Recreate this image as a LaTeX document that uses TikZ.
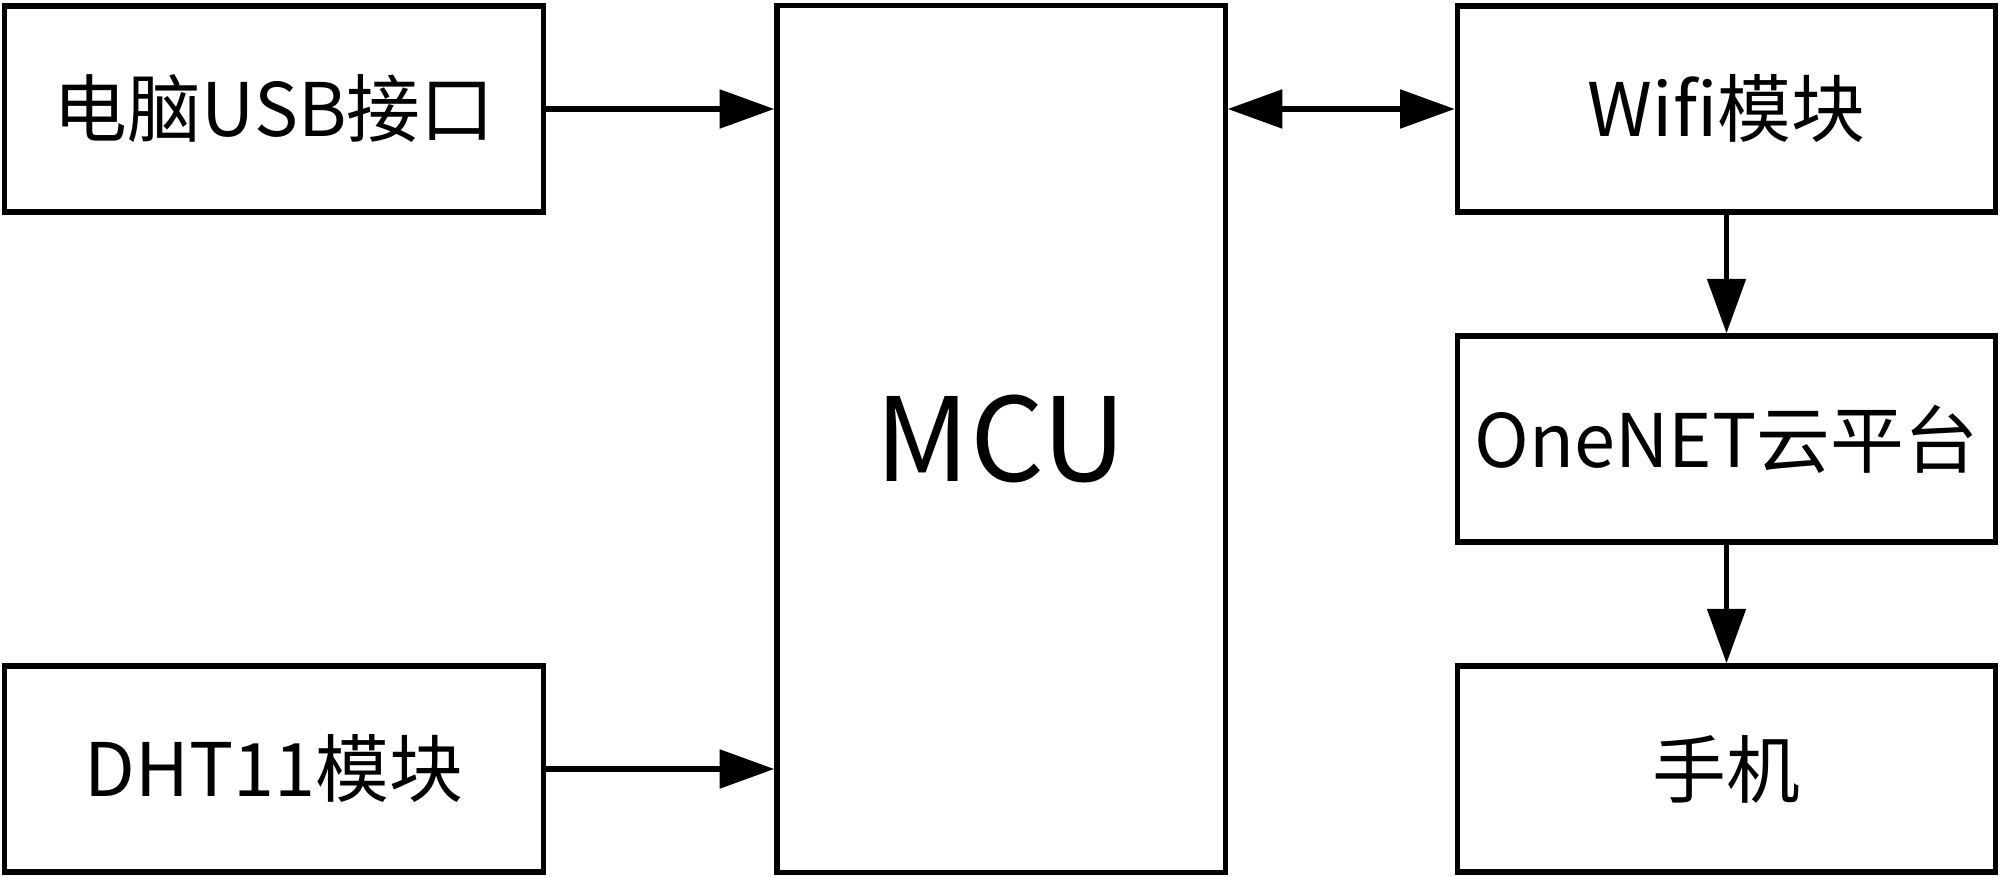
\documentclass[tikz,border=0pt]{standalone}
\usepackage{fontspec}
\setmainfont{Noto Sans CJK SC}
\usetikzlibrary{arrows.meta}
\begin{document}
\begin{tikzpicture}[x=0.01cm,y=-0.01cm,
  blk/.style={draw=black,line width=1.5pt,rectangle,inner sep=0pt,
    font=\fontsize{21pt}{25pt}\selectfont},
  side/.style={blk,minimum width=5.38cm,minimum height=2.06cm},
  conn/.style={line width=1.5pt,-{Triangle[length=15.5pt,width=10.8pt]}},
  biconn/.style={line width=1.5pt,{Triangle[length=15.5pt,width=10.8pt]}-{Triangle[length=15.5pt,width=10.8pt]}}]
\useasboundingbox (0,0) rectangle (2000,877);
\node[side] (usb) at (274,109) {电脑USB接口};
\node[side] (dht) at (274,769) {DHT11模块};
\node[blk,minimum width=4.48cm,minimum height=8.66cm,
  font=\fontsize{33pt}{37pt}\selectfont] (mcu) at (1001,439) {MCU};
\node[side] (wifi) at (1726.5,109) {Wifi模块};
\node[side] (onenet) at (1726.5,439) {OneNET云平台};
\node[side] (phone) at (1726.5,769) {手机};
\draw[conn] (usb.east) -- (usb.east -| mcu.west);
\draw[conn] (dht.east) -- (dht.east -| mcu.west);
\draw[biconn] (wifi.west -| mcu.east) -- (wifi.west);
\draw[conn] (wifi) -- (onenet);
\draw[conn] (onenet) -- (phone);
\end{tikzpicture}
\end{document}
